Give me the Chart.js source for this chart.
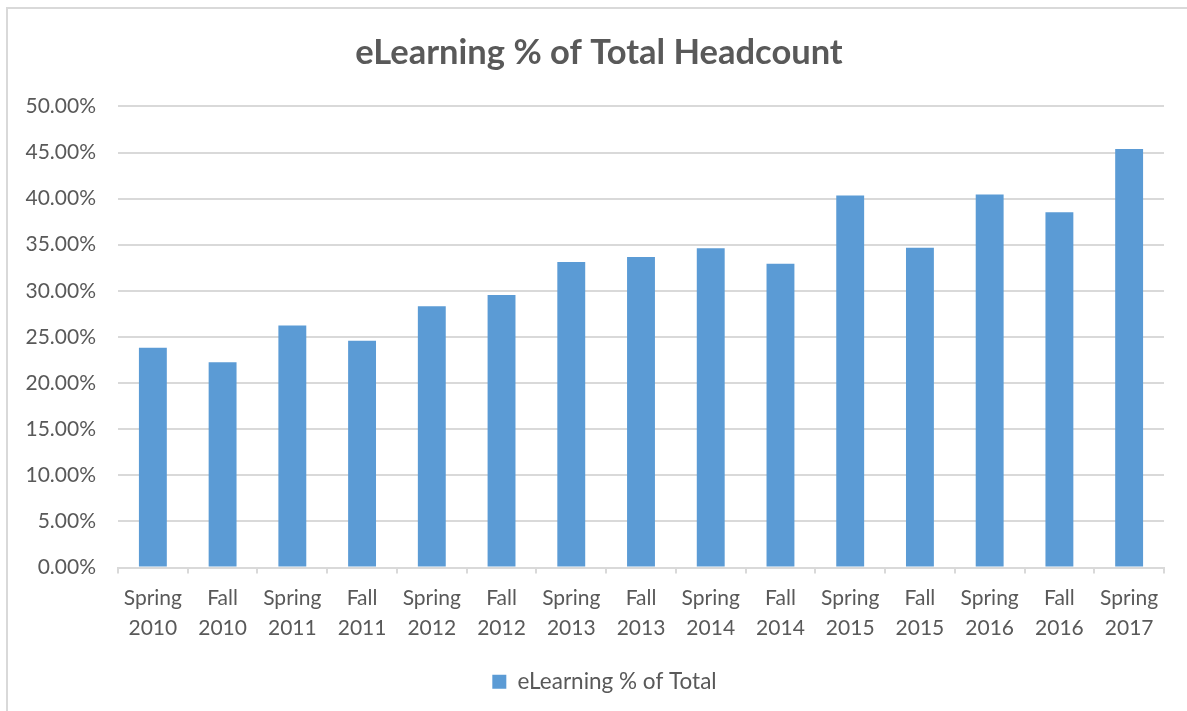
<!DOCTYPE html>
<html>
<head>
<meta charset="utf-8">
<script src="https://cdn.jsdelivr.net/npm/chart.js@4"></script>
<style>
  html, body { margin: 0; padding: 0; background: #ffffff; }
  #wrap { position: relative; width: 1187px; height: 711px; overflow: hidden; }
  #frame { position: absolute; left: 6px; top: 7px; width: 1200px; height: 720px;
           border-left: 2px solid #d9d9d9; border-top: 2px solid #d9d9d9; box-sizing: border-box; }
  canvas { position: absolute; left: 0; top: 0; }
</style>
</head>
<body>
<div id="wrap">
  <div id="frame"></div>
  <canvas id="c" width="1187" height="711"></canvas>
</div>
<script>
const categories = [
  ['Spring', '2010'], ['Fall', '2010'], ['Spring', '2011'], ['Fall', '2011'],
  ['Spring', '2012'], ['Fall', '2012'], ['Spring', '2013'], ['Fall', '2013'],
  ['Spring', '2014'], ['Fall', '2014'], ['Spring', '2015'], ['Fall', '2015'],
  ['Spring', '2016'], ['Fall', '2016'], ['Spring', '2017']
];
const eLearningPct = [23.84, 22.25, 26.23, 24.60, 28.33, 29.56, 33.14, 33.68,
                      34.62, 32.95, 40.34, 34.66, 40.45, 38.53, 45.37];
const seriesName = 'eLearning % of Total';
const chartTitle = 'eLearning % of Total Headcount';
const yMin = 0, yMax = 50, yStep = 5;

const FONT = 'Lato, "Open Sans", sans-serif';
const TEXT = '#595959';
const GRID = '#d9d9d9';
const BAR = '#5b9bd5';

// shift title / legend centring to match the reference composition
const shiftBlocks = {
  id: 'shiftBlocks',
  afterLayout(chart) {
    if (chart.titleBlock) { chart.titleBlock.left = 34; }
    if (chart.legend) { chart.legend.left = 45; }
  }
};

new Chart(document.getElementById('c'), {
  type: 'bar',
  data: {
    labels: categories,
    datasets: [{
      label: seriesName,
      data: eLearningPct,
      backgroundColor: BAR,
      borderWidth: 0,
      barPercentage: 0.4,
      categoryPercentage: 1.0
    }]
  },
  plugins: [shiftBlocks],
  options: {
    responsive: false,
    animation: false,
    devicePixelRatio: 1,
    layout: { padding: { left: 0, right: 23, top: 0, bottom: 8 } },
    plugins: {
      title: {
        display: true,
        text: chartTitle,
        color: TEXT,
        font: { family: FONT, size: 34.5, weight: 'bold', lineHeight: 1.2 },
        padding: { top: 32, bottom: 33 }
      },
      legend: {
        display: true,
        position: 'bottom',
        labels: {
          color: TEXT,
          font: { family: FONT, size: 22.5 },
          boxWidth: 14,
          boxHeight: 14,
          padding: 12
        }
      },
      tooltip: { enabled: false }
    },
    scales: {
      x: {
        offset: true,
        grid: { display: true, drawOnChartArea: false, drawTicks: true, tickLength: 6,
                color: GRID, lineWidth: 2, offset: true },
        border: { display: true, color: GRID, width: 2 },
        ticks: {
          color: TEXT,
          font: { family: FONT, size: 21, lineHeight: 1.43 },
          padding: 10,
          maxRotation: 0,
          autoSkip: false
        },
        afterFit: (s) => { s.height = 91; }
      },
      y: {
        min: yMin,
        max: yMax,
        grid: { color: GRID, lineWidth: 2, drawTicks: false },
        border: { display: false },
        ticks: {
          stepSize: yStep,
          color: TEXT,
          font: { family: FONT, size: 21 },
          padding: 22,
          callback: (v) => v.toFixed(2) + '%'
        },
        afterFit: (s) => { s.width = 118; }
      }
    }
  }
});
</script>
</body>
</html>
